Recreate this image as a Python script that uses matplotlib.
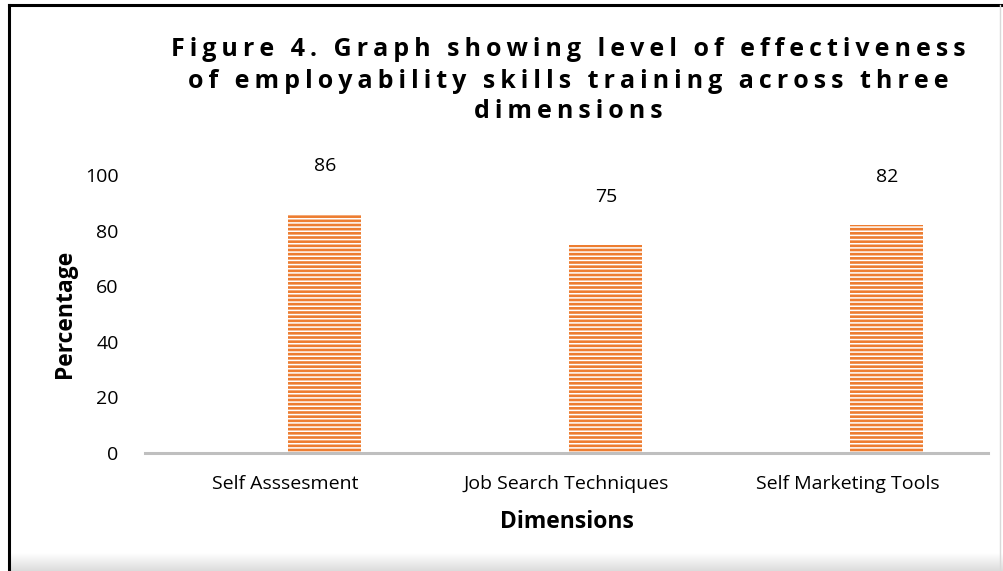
import numpy as np
import matplotlib
matplotlib.use('Agg')
import matplotlib.pyplot as plt
from matplotlib.lines import Line2D

plt.rcParams['font.family'] = ['Open Sans', 'DejaVu Sans']
plt.rcParams['hatch.linewidth'] = 1.1

categories = ['Self Asssesment', 'Job Search Techniques', 'Self Marketing Tools']
values = [86, 75, 82]
title_lines = ['Figure 4. Graph showing level of effectiveness',
               'of employability skills training across three',
               'dimensions']

BAR_COLOR = '#ED7D31'
BAR_SHIFT = 0.14  # bars sit right of the category centre, as in the original

fig = plt.figure(figsize=(10.04, 5.71), dpi=100)
ax = fig.add_axes([0.1444, 0.2067, 0.8396, 0.4868])

x = np.arange(len(categories))
ax.bar(x + BAR_SHIFT, values, width=0.26, color=BAR_COLOR, edgecolor='white',
       linewidth=0, hatch='----')

for xi, v in zip(x, values):
    ax.annotate(f'{v}', (xi + BAR_SHIFT, v), xytext=(0, 28), textcoords='offset points',
                ha='center', va='bottom', fontsize=14, color='#000000')

ax.set_xlim(-0.5, 2.5)
ax.set_ylim(0, 100)
ax.set_yticks(np.arange(0, 101, 20))
ax.set_xticks(x)
ax.set_xticklabels(categories)
ax.tick_params(axis='both', length=0, labelsize=14, colors='#000000')
ax.tick_params(axis='y', pad=19)
ax.tick_params(axis='x', pad=16)
for s in ['top', 'right', 'left']:
    ax.spines[s].set_visible(False)
ax.spines['bottom'].set_color('#BFBFBF')
ax.spines['bottom'].set_linewidth(2.2)

ax.set_ylabel('Percentage', fontsize=16.5, fontweight='bold', labelpad=6)
ax.set_xlabel('Dimensions', fontsize=16.5, fontweight='bold', labelpad=12)

# letter-spaced title, like the original
spaced = ['\u2009'.join(list(line)) for line in title_lines]
for i, line in enumerate(spaced):
    fig.text(0.5665, 1 - (50 + i * 31) / 571, line, ha='center', va='center',
             fontsize=18, fontweight='bold', color='#000000')

# frame: black left/top, faint right, grey shadow at the bottom
fig.add_artist(Line2D([9 / 1004, 9 / 1004], [0, 1 - 5 / 571], color='black', lw=2.2))
fig.add_artist(Line2D([9 / 1004, 1], [1 - 5 / 571, 1 - 5 / 571], color='black', lw=2.2))
fig.add_artist(Line2D([1000 / 1004, 1000 / 1004], [0, 1 - 5 / 571], color='#D9D9D9', lw=1))
gax = fig.add_axes([10 / 1004, 0, 1 - 10 / 1004, 18 / 571])
grad = np.linspace(1.0, 0.86, 50).reshape(-1, 1)
gax.imshow(grad, aspect='auto', cmap='gray', vmin=0, vmax=1, extent=[0, 1, 0, 1])
gax.axis('off')

fig.savefig('out.png', dpi=100)
